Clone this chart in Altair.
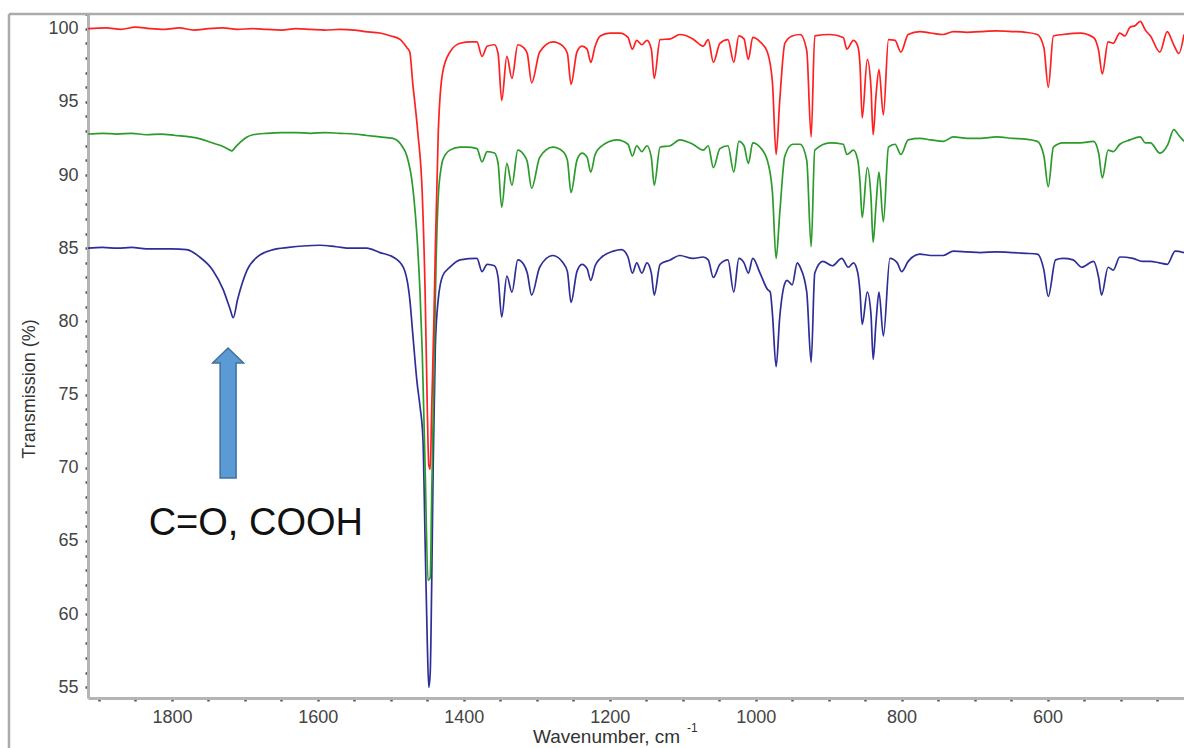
import altair as alt
import pandas as pd

# ---------------- data ----------------
WN_LIMITS = [413, 1915]
T_LIMITS = [54.27, 101.0]

red_wn = [1915, 1890, 1870, 1850, 1830, 1810, 1790, 1770, 1750, 1730, 1710, 1690, 1670, 1650, 1630, 1610,
          1590, 1570, 1550, 1535, 1515, 1500, 1487, 1478, 1474, 1470, 1463, 1457, 1453, 1450, 1448, 1446,
          1444, 1441, 1439, 1435, 1429, 1419, 1405, 1390, 1382, 1375, 1368, 1358, 1353, 1348, 1341, 1334,
          1326, 1318, 1313, 1307, 1296, 1278, 1264, 1258, 1253, 1245, 1238, 1231, 1226, 1220, 1213, 1200,
          1186, 1175, 1169, 1163, 1156, 1149, 1143, 1139, 1131, 1117, 1104, 1086, 1072, 1065, 1058, 1049,
          1038, 1030, 1023, 1016, 1010, 1004, 994, 984, 977, 972, 967, 960, 950, 939, 930, 924, 919, 898,
          880, 875, 866, 860, 857, 854, 847, 842, 839, 835, 831, 825, 818, 809, 801, 791, 775, 760, 743,
          729, 710, 692, 670, 647, 630, 614, 605, 599, 592, 579, 555, 537, 530, 525, 517, 510, 501, 494,
          487, 480, 473, 466, 459, 446, 436, 428, 420, 413]
red_t = [100.0, 100.05, 99.95, 100.1, 100.0, 99.95, 100.05, 99.9, 100.0, 100.05, 99.95, 100.0, 99.95, 99.9,
         100.0, 99.95, 99.9, 99.95, 99.9, 99.8, 99.7, 99.5, 99.25, 98.7, 98.4, 96.3, 92.9, 88.8, 82.0, 74.0,
         70.2, 69.9, 74.0, 80.0, 84.9, 92.9, 97.0, 98.4, 99.0, 99.1, 99.1, 98.1, 98.8, 98.9, 98.3, 95.1, 98.1,
         96.6, 98.9, 98.7, 98.3, 96.3, 98.4, 99.1, 98.8, 98.3, 96.2, 98.4, 98.8, 98.6, 97.7, 98.8, 99.5, 99.7,
         99.7, 99.4, 98.6, 99.2, 98.9, 99.2, 98.6, 96.6, 99.25, 99.3, 99.6, 99.3, 98.8, 99.25, 97.7, 99.0,
         99.25, 97.7, 99.5, 99.3, 97.9, 99.4, 99.1, 98.4, 96.3, 91.4, 95.1, 99.0, 99.5, 99.6, 98.5, 92.6,
         99.5, 99.6, 99.4, 98.6, 99.2, 98.8, 97.5, 93.9, 97.9, 96.0, 92.75, 95.5, 97.2, 94.1, 99.25, 99.2,
         98.4, 99.6, 99.8, 99.7, 99.6, 99.8, 99.75, 99.8, 99.85, 99.8, 99.75, 99.6, 98.7, 96.0, 99.5, 99.6,
         99.7, 99.4, 98.5, 96.9, 99.1, 99.0, 99.7, 99.5, 100.1, 100.2, 100.5, 99.9, 99.5, 98.4, 99.8, 99.0,
         98.3, 99.6]

green_wn = [1915, 1895, 1875, 1855, 1835, 1815, 1795, 1775, 1760, 1745, 1730, 1722, 1718, 1713, 1705, 1697,
            1689, 1670, 1650, 1630, 1610, 1590, 1570, 1550, 1533, 1515, 1497, 1485, 1478, 1470, 1463, 1460,
            1457, 1453, 1449, 1446, 1444, 1441, 1438, 1435, 1431, 1429, 1419, 1405, 1396, 1382, 1375, 1368,
            1358, 1353, 1348, 1341, 1334, 1326, 1318, 1313, 1307, 1296, 1278, 1264, 1258, 1253, 1245, 1238,
            1231, 1226, 1220, 1213, 1190, 1175, 1169, 1163, 1156, 1149, 1143, 1139, 1131, 1117, 1104, 1086,
            1072, 1065, 1058, 1049, 1038, 1030, 1023, 1016, 1010, 1004, 994, 984, 977, 972, 967, 960, 949,
            939, 930, 924, 919, 898, 880, 875, 866, 860, 857, 854, 847, 842, 839, 835, 831, 825, 818, 809,
            801, 791, 775, 760, 743, 729, 710, 692, 670, 647, 630, 614, 605, 599, 592, 579, 555, 537, 530,
            525, 517, 510, 501, 487, 473, 466, 459, 446, 435, 427, 420, 413]
green_t = [92.8, 92.85, 92.8, 92.85, 92.75, 92.8, 92.7, 92.6, 92.45, 92.2, 91.95, 91.75, 91.65, 91.9, 92.3,
           92.6, 92.75, 92.85, 92.9, 92.9, 92.85, 92.9, 92.85, 92.8, 92.7, 92.6, 92.5, 92.0, 91.3, 89.2, 84.9,
           82.0, 78.0, 70.0, 62.3, 62.5, 68.0, 76.0, 84.0, 88.5, 90.5, 91.0, 91.7, 91.9, 91.9, 91.8, 90.9,
           91.6, 91.5, 90.8, 87.8, 90.8, 89.3, 91.7, 91.4, 90.9, 89.1, 91.2, 91.9, 91.6, 91.0, 88.8, 91.0,
           91.5, 91.2, 90.2, 91.4, 91.9, 92.4, 92.1, 91.3, 92.0, 91.6, 92.0, 91.2, 89.3, 91.9, 92.0, 92.4,
           92.1, 91.7, 92.0, 90.5, 91.8, 92.0, 90.2, 92.3, 92.0, 90.8, 92.2, 91.9, 91.0, 88.8, 84.3, 87.4,
           91.3, 92.1, 92.1, 91.0, 85.1, 91.7, 92.2, 92.1, 91.4, 91.7, 91.0, 89.5, 87.1, 90.5, 88.5, 85.4,
           88.0, 90.2, 86.8, 91.9, 92.1, 91.4, 92.4, 92.5, 92.4, 92.3, 92.6, 92.5, 92.5, 92.6, 92.5, 92.45,
           92.3, 91.3, 89.2, 91.9, 92.2, 92.2, 92.3, 91.5, 89.8, 91.7, 91.6, 92.1, 92.4, 92.6, 92.2, 92.2,
           91.5, 92.1, 93.1, 92.7, 92.3]

blue_wn = [1915, 1895, 1875, 1855, 1835, 1815, 1800, 1780, 1762, 1744, 1730, 1720, 1716, 1710, 1697, 1683,
           1661, 1640, 1620, 1597, 1575, 1555, 1533, 1515, 1497, 1483, 1474, 1470, 1464, 1460, 1456, 1453,
           1450, 1448, 1446, 1444, 1442, 1440, 1439, 1435, 1429, 1419, 1405, 1382, 1375, 1368, 1358, 1353,
           1348, 1341, 1334, 1326, 1318, 1313, 1307, 1296, 1278, 1264, 1258, 1253, 1245, 1238, 1231, 1226,
           1220, 1213, 1195, 1184, 1175, 1169, 1163, 1156, 1149, 1143, 1139, 1131, 1117, 1104, 1086, 1072,
           1065, 1058, 1049, 1038, 1030, 1023, 1016, 1010, 1004, 994, 984, 980, 977, 972, 967, 960, 957,
           950, 943, 939, 930, 924, 919, 908, 895, 882, 873, 866, 860, 857, 854, 847, 842, 839, 835, 831,
           825, 816, 806, 800, 791, 775, 760, 743, 729, 710, 692, 670, 647, 630, 614, 605, 599, 589, 579,
           565, 553, 537, 530, 526, 517, 510, 501, 483, 470, 459, 447, 436, 425, 413]
blue_t = [85.0, 85.05, 85.0, 85.05, 84.95, 84.95, 84.95, 84.9, 84.4, 83.5, 82.2, 80.8, 80.25, 81.5, 83.5,
          84.4, 84.9, 85.05, 85.15, 85.2, 85.1, 85.0, 85.0, 84.7, 84.4, 83.7, 81.5, 79.2, 75.8, 74.2, 72.0,
          65.0, 58.0, 55.0, 56.0, 62.0, 70.0, 75.5, 78.3, 81.5, 83.1, 83.7, 84.2, 84.3, 83.4, 83.9, 83.8,
          83.0, 80.3, 83.1, 82.0, 84.2, 83.9, 83.3, 81.8, 83.7, 84.5, 84.0, 83.4, 81.3, 83.4, 83.9, 83.6,
          82.8, 83.8, 84.3, 84.8, 84.9, 84.4, 83.3, 84.0, 83.3, 84.0, 83.3, 81.8, 83.9, 84.2, 84.5, 84.3,
          84.4, 84.2, 83.0, 83.9, 84.2, 82.0, 84.3, 84.0, 83.3, 84.3, 83.3, 82.2, 82.0, 80.5, 76.9, 80.3,
          82.6, 82.8, 82.5, 84.0, 83.7, 82.0, 77.2, 83.3, 84.1, 83.8, 84.3, 83.7, 84.0, 83.3, 82.0, 79.8,
          82.0, 80.5, 77.4, 80.0, 82.0, 79.0, 84.3, 84.0, 83.4, 84.1, 84.6, 84.5, 84.5, 84.8, 84.75, 84.7,
          84.75, 84.7, 84.65, 84.6, 83.5, 81.7, 84.2, 84.3, 84.2, 83.7, 84.1, 83.0, 81.8, 83.7, 83.5, 84.4,
          84.3, 84.1, 84.1, 84.0, 83.9, 84.8, 84.7]

x_tick_values = list(range(450, 1901, 50))
y_tick_values = list(range(55, 102, 1))

note_text = ["C=O, COOH"]
note_wn = [1685]
note_t = [65.4]

arrow_wn = [1723]
arrow_t = [73.74]

# ---------------- chart ----------------
W, H = 1096, 684
FONT = "Liberation Sans"

def series_df(wn, t):
    return pd.DataFrame({"wn": wn, "t": t, "i": list(range(len(wn)))})

xs = alt.Scale(domain=WN_LIMITS, reverse=True, nice=False, zero=False)
ys = alt.Scale(domain=T_LIMITS, nice=False, zero=False)

xaxis = alt.Axis(values=x_tick_values, format="d",
                 labelExpr="datum.value % 200 === 0 ? datum.label : ''",
                 labelFont=FONT, labelFontSize=18, labelColor="#444", labelPadding=7,
                 tickSize=3, tickWidth=2.5, tickColor="#555",
                 domainColor="#b4b4b4", domainWidth=3, grid=False, title=None,
                 labelOverlap=False, labelFlush=False, labelBound=False)
yaxis = alt.Axis(values=y_tick_values, format="d",
                 labelExpr="datum.value % 5 === 0 ? datum.label : ''",
                 labelFont=FONT, labelFontSize=18, labelColor="#444", labelPadding=7,
                 tickSize=3, tickWidth=2.5, tickColor="#555",
                 domainColor="#b4b4b4", domainWidth=3, grid=False, title=None,
                 labelOverlap=False, labelFlush=False, labelBound=False)

X = alt.X("wn:Q", scale=xs, axis=xaxis)
Y = alt.Y("t:Q", scale=ys, axis=yaxis)

def spectrum(wn, t, color):
    return alt.Chart(series_df(wn, t)).mark_line(
        color=color, strokeWidth=1.7, clip=True, interpolate="monotone"
    ).encode(x=X, y=Y, order="i:Q")

blue_line = spectrum(blue_wn, blue_t, "#2e2e99")
green_line = spectrum(green_wn, green_t, "#2b9b2b")
red_line = spectrum(red_wn, red_t, "#ff2020")

one = pd.DataFrame({"k": [0]})

top_rule = alt.Chart(one).mark_rule(color="#ababab", strokeWidth=2.5).encode(
    x=alt.value(-79), x2=alt.value(W + 10), y=alt.value(0))
left_rule = alt.Chart(one).mark_rule(color="#ababab", strokeWidth=2.5).encode(
    x=alt.value(-79), y=alt.value(0), y2=alt.value(H + 60))

arrow_path = ("M0,-1 L0.238,-0.769 L0.123,-0.769 L0.123,1 L-0.123,1 "
              "L-0.123,-0.769 L-0.238,-0.769 Z")
arrow = alt.Chart(pd.DataFrame({"wn": arrow_wn, "t": arrow_t})).mark_point(
    shape=arrow_path, size=16900, filled=True, fill="#5b9bd5", stroke="#41719c",
    strokeWidth=1.5, opacity=1
).encode(x=X, y=Y)

note = alt.Chart(pd.DataFrame({"wn": note_wn, "t": note_t, "txt": note_text})).mark_text(
    font=FONT, fontSize=38, color="#111", align="center", baseline="alphabetic"
).encode(x=X, y=Y, text="txt:N")

ytitle = alt.Chart(one).mark_text(
    text="Transmission (%)", angle=270, font=FONT, fontSize=18, color="#333",
    align="center", baseline="middle"
).encode(x=alt.value(-58), y=alt.value(375))

xtitle = alt.Chart(one).mark_text(
    text="Wavenumber, cm", font=FONT, fontSize=19, color="#333",
    align="left", baseline="alphabetic"
).encode(x=alt.value(445), y=alt.value(729))

xtitle_sup = alt.Chart(one).mark_text(
    text="-1", font=FONT, fontSize=12, color="#333",
    align="left", baseline="alphabetic"
).encode(x=alt.value(599), y=alt.value(718))

chart = alt.layer(
    top_rule, left_rule, blue_line, green_line, red_line, arrow, note, ytitle, xtitle, xtitle_sup
).properties(
    width=W, height=H,
    padding={"left": 88, "top": 14, "right": 0, "bottom": 50},
    autosize=alt.AutoSizeParams(type="none"),
    background="white",
).configure_view(stroke=None)

chart.save("out.html", embed_options={"renderer": "svg", "actions": False})
